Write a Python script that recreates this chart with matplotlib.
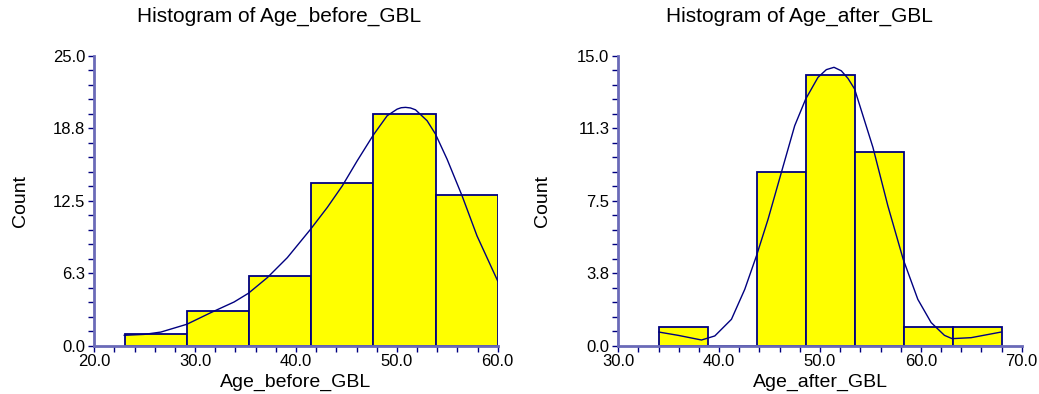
import matplotlib
matplotlib.use("Agg")
import matplotlib.pyplot as plt
import numpy as np

plt.rcParams['font.family'] = ['Liberation Sans', 'DejaVu Sans']

# ---- data: Age_before_GBL ----
before_edges = [23.0, 29.1667, 35.3333, 41.5, 47.6667, 53.8333, 60.0]
before_counts = [1, 3, 6, 14, 20, 13]
before_curve_x = [22.97, 24.95, 26.6, 29.17, 31.55, 33.86, 35.28, 37.16, 39.14, 41.45,
                  43.1, 44.59, 46.07, 47.66, 49.04, 50.03, 50.43, 50.86, 51.35, 51.85,
                  53.0, 53.83, 54.98, 56.47, 57.95, 60.0]
before_curve_y = [0.92, 1.0, 1.2, 1.87, 2.87, 3.79, 4.54, 5.89, 7.61, 10.06,
                  11.93, 13.79, 15.95, 18.16, 19.83, 20.4, 20.52, 20.55, 20.5, 20.34,
                  19.4, 18.25, 16.09, 12.93, 9.48, 5.6]
before_yticks = [0.0, 6.25, 12.5, 18.75, 25.0]
before_ytick_labels = ['0.0', '6.3', '12.5', '18.8', '25.0']
before_xticks = [20.0, 30.0, 40.0, 50.0, 60.0]
before_xtick_labels = ['20.0', '30.0', '40.0', '50.0', '60.0']

# ---- data: Age_after_GBL ----
after_edges = [34.0, 38.857, 43.714, 48.571, 53.429, 58.286, 63.143, 68.0]
after_counts = [1, 0, 9, 14, 10, 1, 1]
after_curve_x = [34.03, 35.94, 38.25, 39.57, 41.22, 42.54, 43.7, 44.85, 46.17, 47.49,
                 48.58, 49.8, 50.63, 51.39, 52.11, 52.77, 53.43, 55.25, 56.73, 58.25,
                 59.7, 61.02, 62.34, 63.1, 64.98, 67.95]
after_curve_y = [0.72, 0.55, 0.31, 0.52, 1.38, 2.93, 4.66, 6.55, 8.97, 11.38,
                 12.76, 13.88, 14.28, 14.4, 14.22, 13.83, 13.28, 10.26, 7.24, 4.48,
                 2.41, 1.21, 0.55, 0.38, 0.43, 0.72]
after_yticks = [0.0, 3.75, 7.5, 11.25, 15.0]
after_ytick_labels = ['0.0', '3.8', '7.5', '11.3', '15.0']
after_xticks = [30.0, 40.0, 50.0, 60.0, 70.0]
after_xtick_labels = ['30.0', '40.0', '50.0', '60.0', '70.0']

NAVY = '#000080'
SPINE = '#6a6ab8'

W, H = 1039, 394
fig = plt.figure(figsize=(W / 100, H / 100), dpi=100)


def panel(rect, edges, counts, cx, cy, xlim, ylim, yticks, ylabels, xticks, xlabels,
          title, xlabel, title_x, ylabel_x):
    ax = fig.add_axes(rect)
    e = np.array(edges)
    ax.bar(e[:-1], counts, width=np.diff(e), align='edge', color='#ffff00',
           edgecolor=NAVY, linewidth=1.3, zorder=2)
    ax.plot(cx, cy, color=NAVY, linewidth=1.0, zorder=3, solid_joinstyle='round')
    ax.set_xlim(*xlim)
    ax.set_ylim(*ylim)
    for s in ['top', 'right']:
        ax.spines[s].set_visible(False)
    for s in ['left', 'bottom']:
        ax.spines[s].set_color(SPINE)
        ax.spines[s].set_linewidth(2.0)
    ax.set_yticks(yticks)
    ax.set_yticklabels(ylabels)
    ax.set_xticks(xticks)
    ax.set_xticklabels(xlabels)
    xmin = np.arange(xlim[0], xlim[1] + 1e-9, 2.0)
    ymin = np.arange(ylim[0], ylim[1] + 1e-9, (ylim[1] - ylim[0]) / 20)
    ax.set_xticks(xmin, minor=True)
    ax.set_yticks(ymin, minor=True)
    ax.tick_params(axis='both', which='both', direction='out', color=NAVY,
                   length=4.5, width=1.0, labelsize=12, pad=2)
    ax.tick_params(axis='x', which='major', pad=1.5)
    ax.set_xlabel(xlabel, fontsize=14, labelpad=3)
    ax.text(title_x, 1.135, title, transform=ax.transAxes, ha='center', va='center',
            fontsize=15)
    ax.text(ylabel_x, 0.5, 'Count', transform=ax.transAxes, ha='center', va='center',
            rotation=90, fontsize=14)
    ax.patch.set_alpha(0)
    return ax


panel([94.3 / W, 48 / H, 403.4 / W, 290.3 / H], before_edges, before_counts,
      before_curve_x, before_curve_y, (20, 60), (0, 25), before_yticks,
      before_ytick_labels, before_xticks, before_xtick_labels,
      'Histogram of Age_before_GBL', 'Age_before_GBL', 0.458, -0.183)
panel([618.3 / W, 48 / H, 403.4 / W, 290.3 / H], after_edges, after_counts,
      after_curve_x, after_curve_y, (30, 70), (0, 15), after_yticks,
      after_ytick_labels, after_xticks, after_xtick_labels,
      'Histogram of Age_after_GBL', 'Age_after_GBL', 0.45, -0.187)

fig.savefig('out.png', dpi=100)
